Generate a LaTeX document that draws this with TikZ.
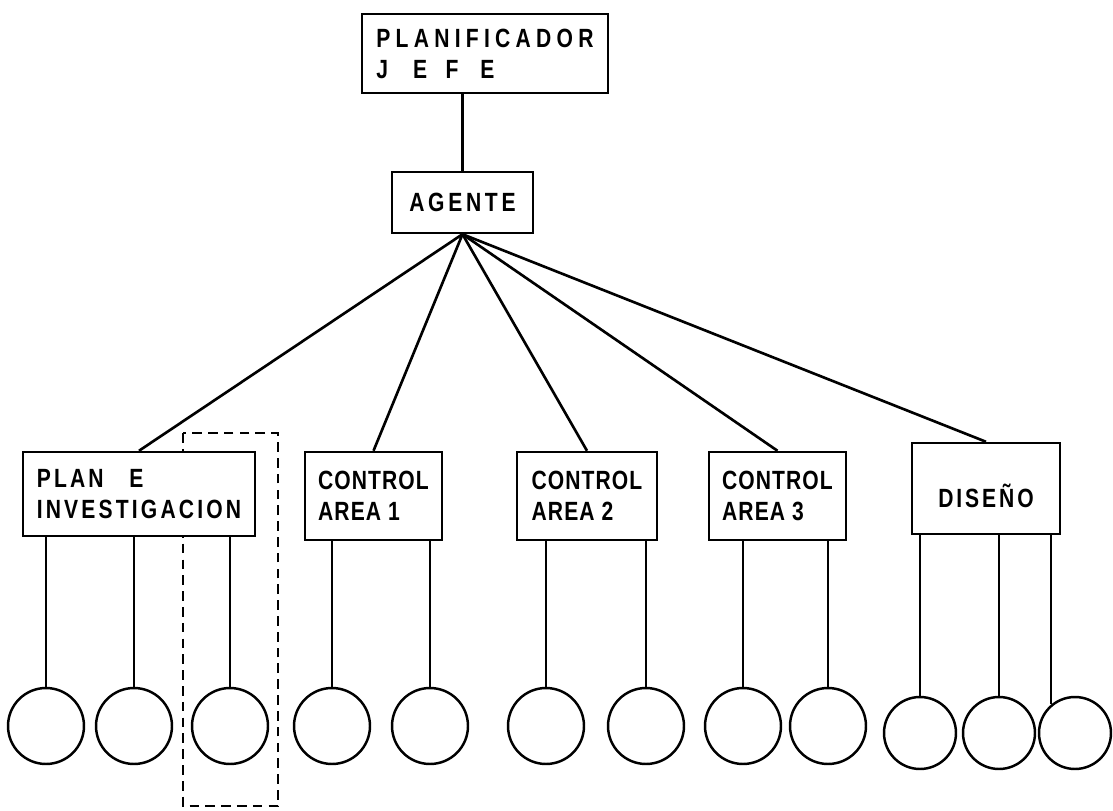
\documentclass[tikz,border=0pt]{standalone}
\usepackage{fontspec}
\setmainfont{Liberation Sans}[FakeStretch=0.8]
\newfontfamily\letterfont{Liberation Sans}[FakeStretch=0.8,LetterSpace=4]
\newfontfamily\planfont{Liberation Sans}[FakeStretch=0.8,LetterSpace=12]
\newfontfamily\agentfont{Liberation Sans}[FakeStretch=0.8,LetterSpace=14]
\newfontfamily\widefont{Liberation Sans}[FakeStretch=0.8,LetterSpace=20]
\newfontfamily\disfont{Liberation Sans}[FakeStretch=0.8,LetterSpace=11]
\newcommand\boxsize{\bfseries\fontsize{15pt}{17.6pt}\selectfont}

\tikzset{
  orgbox/.style={draw, fill=white, line width=1.4pt, inner sep=0pt, align=left,
    font=\letterfont\boxsize},
  leaf/.style={circle, draw, line width=1.4pt, inner sep=0pt, minimum size=1.52cm},
  smallleaf/.style={leaf, minimum size=1.44cm},
  wire/.style={line width=1.5pt},
  group/.style={line width=1.4pt, dash pattern=on 5.5pt off 3.5pt}
}

\begin{document}
\begin{tikzpicture}[x=0.02cm, y=-0.02cm]
\useasboundingbox (0,0) rectangle (1113,811);

\draw[group] (183,433) rectangle (278,806);

\node[orgbox, minimum width=4.92cm, minimum height=1.58cm, font=\widefont\boxsize] (jefe) at (485,53.5)
  {PLANIFICADOR\\J\hspace{14.2pt}E\hspace{10.6pt}F\hspace{12.4pt}E};
\node[orgbox, minimum width=2.82cm, minimum height=1.22cm, font=\agentfont\boxsize] (agente) at (462.5,202.5) {AGENTE};

\node[orgbox, minimum width=4.64cm, minimum height=1.68cm, font=\planfont\boxsize] (plan) at (139,494)
  {PLAN\hspace{14.6pt}E\\INVESTIGACION};
\node[orgbox, minimum width=2.74cm, minimum height=1.76cm] (ctrl1) at (373.5,496) {CONTROL\\AREA 1};
\node[orgbox, minimum width=2.80cm, minimum height=1.76cm] (ctrl2) at (587,496) {CONTROL\\AREA 2};
\node[orgbox, minimum width=2.74cm, minimum height=1.76cm] (ctrl3) at (777.5,496) {CONTROL\\AREA 3};
\node[orgbox, minimum width=2.96cm, minimum height=1.82cm, text height=0.76cm, text depth=0pt, font=\disfont\boxsize] (disenio) at (986,488.5) {DISEÑO};

\node[leaf] (c1) at (46,726) {};
\node[leaf] (c2) at (134,726) {};
\node[leaf] (c3) at (230,726) {};
\node[leaf] (c4) at (332,726) {};
\node[leaf] (c5) at (430,726) {};
\node[leaf] (c6) at (546,726) {};
\node[leaf] (c7) at (646,726) {};
\node[leaf] (c8) at (743,726) {};
\node[leaf] (c9) at (828,726) {};
\node[smallleaf] (c10) at (920,733) {};
\node[smallleaf] (c11) at (999,733) {};
\node[smallleaf] (c12) at (1075,733) {};

\draw[wire] (agente.north) -- (agente.north |- jefe.south);
\foreach \b in {plan,ctrl1,ctrl2,ctrl3,disenio}
  \draw[wire] (agente.south) -- (\b.north);

\foreach \c/\b in {c1/plan,c2/plan,c3/plan,c4/ctrl1,c5/ctrl1,c6/ctrl2,c7/ctrl2,c8/ctrl3,c9/ctrl3,c10/disenio,c11/disenio}
  \draw[wire] (\c.north) -- (\c.north |- \b.south);
\draw[wire] (c12.130) -- (c12.130 |- disenio.south);
\end{tikzpicture}
\end{document}
